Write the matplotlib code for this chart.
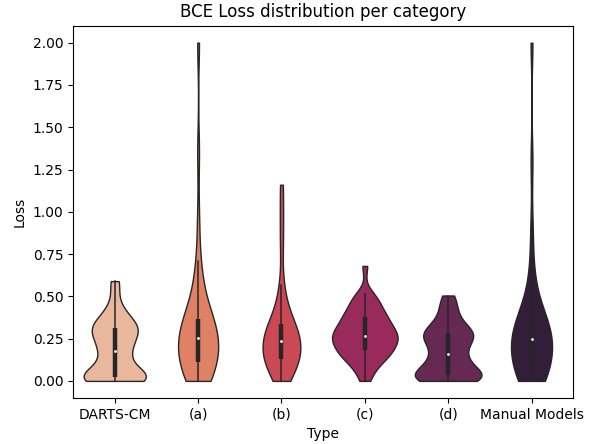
import colorsys
import numpy as np
import matplotlib
matplotlib.use("Agg")
import matplotlib.pyplot as plt
import matplotlib.colors as mcolors
from matplotlib import cbook, mlab

categories = ["DARTS-CM", "(a)", "(b)", "(c)", "(d)", "Manual Models"]

# loss samples (quartiles, whiskers, tails)
darts_cm = [0.0, 0.0, 0.0, 0.005, 0.008, 0.01, 0.012, 0.015, 0.018, 0.02,
            0.025, 0.03, 0.035, 0.045, 0.06, 0.08, 0.11, 0.14, 0.16, 0.175,
            0.18, 0.2, 0.22, 0.24, 0.26, 0.27, 0.285, 0.295, 0.3, 0.31,
            0.32, 0.33, 0.34, 0.35, 0.37, 0.39, 0.42, 0.46, 0.56, 0.59]
type_a = [0.0, 0.0, 0.01, 0.025, 0.04, 0.055, 0.07, 0.08, 0.09, 0.099,
          0.115, 0.13, 0.145, 0.16, 0.175, 0.19, 0.205, 0.22, 0.235, 0.247,
          0.26, 0.27, 0.285, 0.295, 0.305, 0.315, 0.325, 0.335, 0.35, 0.362,
          0.39, 0.42, 0.46, 0.5, 0.56, 0.63, 0.708, 0.95, 1.35, 2.0]
type_b = [0.0, 0.03, 0.055, 0.075, 0.09, 0.1, 0.112,
          0.125, 0.14, 0.155, 0.17, 0.185, 0.2, 0.215, 0.23,
          0.24, 0.255, 0.27, 0.285, 0.3, 0.315, 0.327, 0.338,
          0.37, 0.42, 0.48, 0.566, 0.8, 0.98, 1.16]
type_c = [0.0, 0.04, 0.08, 0.1, 0.12, 0.13, 0.145, 0.155, 0.165, 0.175,
          0.185, 0.195, 0.205, 0.215, 0.225, 0.235, 0.245, 0.25, 0.26, 0.265,
          0.27, 0.28, 0.29, 0.3, 0.31, 0.32, 0.33, 0.34, 0.355, 0.375,
          0.38, 0.39, 0.4, 0.42, 0.44, 0.46, 0.48, 0.5, 0.514, 0.68]
type_d = [0.0, 0.0, 0.003, 0.006, 0.01, 0.014, 0.018, 0.022, 0.026, 0.03,
          0.035, 0.045, 0.055, 0.065, 0.08, 0.095, 0.11, 0.125, 0.14, 0.148,
          0.17, 0.19, 0.21, 0.225, 0.24, 0.25, 0.26, 0.27, 0.275, 0.283,
          0.29, 0.3, 0.31, 0.33, 0.35, 0.38, 0.41, 0.44, 0.48, 0.505]
manual = [0.0, 0.0, 0.01, 0.02, 0.03, 0.04, 0.05, 0.06, 0.07, 0.08,
          0.095, 0.11, 0.13, 0.15, 0.17, 0.185, 0.2, 0.215, 0.23, 0.24,
          0.25, 0.26, 0.27, 0.28, 0.29, 0.3, 0.31, 0.32, 0.33, 0.337,
          0.36, 0.39, 0.42, 0.46, 0.51, 0.56, 0.7, 0.9, 1.3, 2.0]

palette = ['#f6b48f', '#f37651', '#e13342', '#ad1759', '#701f57', '#35193e']
BW_ADJUST = 0.75


def desaturate(color, prop):
    h, l, s = colorsys.rgb_to_hls(*mcolors.to_rgb(color))
    return colorsys.hls_to_rgb(h, l, s * prop)


def kde(x, coords):
    k = mlab.GaussianKDE(x, lambda g: g.scotts_factor() * BW_ADJUST)
    return k.evaluate(coords)


data = [darts_cm, type_a, type_b, type_c, type_d, manual]
pos = np.arange(len(data))

vstats = cbook.violin_stats(data, kde, points=100)
# width scaled by observation count, like seaborn density_norm="count"
peaks = [s['vals'].max() * len(d) for s, d in zip(vstats, data)]
widths = [0.8 * p / max(peaks) for p in peaks]

fig = plt.figure(figsize=(5.94, 4.44), dpi=100)
ax = fig.add_subplot(111)
fig.subplots_adjust(left=0.123, right=0.965, top=0.942, bottom=0.104)

parts = ax.violin(vstats, positions=pos, widths=widths,
                  showmeans=False, showextrema=False, showmedians=False)
for body, c in zip(parts['bodies'], palette):
    body.set_facecolor(desaturate(c, 0.75))
    body.set_edgecolor('#262626')
    body.set_linewidth(1.0)
    body.set_alpha(1)

bstats = cbook.boxplot_stats(data)
for x, b in zip(pos, bstats):
    ax.plot([x, x], [b['whislo'], b['whishi']], color='#262626', lw=1.1, zorder=3)
    ax.plot([x, x], [b['q1'], b['q3']], color='#262626', lw=3.2,
            solid_capstyle='butt', zorder=3)
    ax.plot(x, b['med'], 'o', color='white', ms=2.0, mew=0, zorder=4)

ax.set_xticks(pos)
ax.set_xticklabels(categories)
ax.set_xlim(-0.5, len(data) - 0.5)
ax.set_xlabel('Type')
ax.set_ylabel('Loss')
ax.set_title('BCE Loss distribution per category')

fig.savefig('out.png', dpi=100)
